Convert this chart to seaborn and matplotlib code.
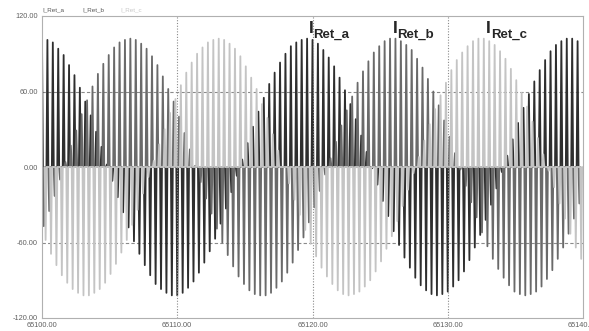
import numpy as np
import pandas as pd
import matplotlib
matplotlib.use("Agg")
import matplotlib.pyplot as plt
from matplotlib.ticker import FormatStrFormatter
import seaborn as sns

# peak value of every pulse (A)
ret_a = [102, 101, 99, 94, 89, 81, 73, 63, 52, 41, 28, 16, 2, -11, -24, -36, -48, -59, -69, -78,
         -86, -93, -97, -100, -102, -102, -100, -96, -91, -84, -76, -67, -57, -45, -33, -20, -7, 6, 19, 32,
         44, 55, 66, 75, 83, 90, 96, 99, 101, 102, 101, 98, 93, 87, 80, 71, 61, 50, 38, 25,
         12, -1, -14, -27, -39, -51, -62, -72, -80, -88, -94, -98, -101, -102, -101, -99, -95, -90, -83, -74,
         -64, -54, -42, -30, -17, -4, 9, 22, 35, 47, 58, 68, 77, 85, 92, 97, 100, 102, 102, 100]
ret_b = [-47, -35, -23, -10, 4, 17, 29, 42, 53, 64, 74, 82, 89, 95, 99, 101, 102, 101, 98, 94,
         88, 81, 72, 62, 52, 40, 27, 14, 1, -12, -25, -37, -49, -60, -70, -79, -87, -93, -98, -101,
         -102, -102, -100, -96, -91, -84, -76, -66, -56, -44, -32, -19, -6, 7, 20, 33, 45, 56, 67, 76,
         84, 91, 96, 100, 102, 102, 100, 97, 93, 86, 79, 70, 60, 49, 37, 24, 11, -2, -15, -28,
         -40, -52, -63, -73, -81, -88, -94, -99, -101, -102, -101, -99, -95, -89, -82, -73, -64, -53, -41, -29]
ret_c = [-58, -69, -78, -86, -92, -97, -100, -102, -102, -100, -97, -92, -85, -77, -68, -58, -46, -34, -21, -8,
         5, 18, 30, 43, 54, 65, 75, 83, 90, 95, 99, 101, 102, 101, 98, 94, 88, 80, 71, 62,
         50, 39, 26, 13, 0, -13, -26, -38, -50, -61, -71, -80, -87, -93, -98, -101, -102, -101, -99, -95,
         -90, -83, -75, -65, -55, -43, -31, -18, -5, 8, 21, 34, 46, 57, 67, 77, 85, 91, 96, 100,
         102, 102, 100, 97, 92, 86, 78, 69, 59, 48, 36, 23, 10, -3, -16, -29, -41, -53, -64, -73]
series = ["I_Ret_a", "I_Ret_b", "I_Ret_c"]
t_start = 65100.0
t_step = 0.4          # pulse spacing in time
t_offset = [0.0, 0.133, 0.267]

colors = ["#2e2e2e", "#6a6a6a", "#c4c4c4"]

# each pulse: 0 -> peak -> 0
rows = []
w = 0.07
for name, vals, off in zip(series, [ret_a, ret_b, ret_c], t_offset):
    t = t_start + off + t_step * np.arange(len(vals))
    xs = np.column_stack([t - w, t, t + w]).ravel()
    ys = np.column_stack([np.zeros(len(vals)), vals, np.zeros(len(vals))]).ravel()
    rows.append(pd.DataFrame({"t": xs, "i": ys, "series": name}))
df = pd.concat(rows, ignore_index=True)

sns.set_style("white")
plt.rcParams["font.family"] = ["Liberation Sans", "DejaVu Sans"]

fig = plt.figure(figsize=(5.89, 3.31), dpi=100)
ax = fig.add_axes([42 / 589, 13 / 331, 541 / 589, 302 / 331])

sns.lineplot(data=df, x="t", y="i", hue="series", hue_order=series,
             palette=colors, estimator=None, sort=False, lw=1.3, legend=False, ax=ax)

ax.set_xlim(65100, 65140)
ax.set_ylim(-120, 120)
ax.set_xticks([65100, 65110, 65120, 65130, 65140])
ax.set_yticks([-120, -60, 0, 60, 120])
ax.xaxis.set_major_formatter(FormatStrFormatter("%.2f"))
ax.yaxis.set_major_formatter(FormatStrFormatter("%.2f"))
ax.tick_params(labelsize=5.3, labelcolor="#606060", length=0, pad=3)
ax.set_xlabel("")
ax.set_ylabel("")

for v in [65110, 65120, 65130]:
    ax.axvline(v, color="#8a8a8a", lw=0.8, ls=(0, (1, 1.5)), zorder=3)
for v in [60, 0, -60]:
    ax.axhline(v, color="#8a8a8a", lw=0.8, ls=(0, (3, 2)), zorder=0)

for s in ax.spines.values():
    s.set_color("#b0b0b0")
    s.set_linewidth(0.8)

# header legend
for x, name, c in zip([42, 82, 120], series, ["#555555", "#555555", "#c8c8c8"]):
    fig.text(x / 589, 1 - 10 / 331, name, fontsize=4.5, color=c, va="center")

# phase labels
for xi, name in zip([65119.75, 65125.95, 65132.85], ["Ret_a", "Ret_b", "Ret_c"]):
    ax.text(xi, 106.3, "I", fontsize=12.6, fontweight="bold", va="baseline", ha="left", zorder=5)
    ax.text(xi + 0.33, 102.8, name, fontsize=9.5, fontweight="bold", va="baseline", ha="left", zorder=5)

fig.savefig("out.png", dpi=100)
